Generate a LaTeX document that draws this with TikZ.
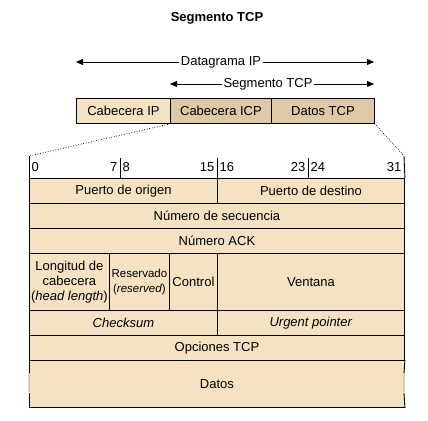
\documentclass[tikz,border=0pt]{standalone}
\usepackage{fontspec}
\setmainfont{Liberation Sans}
\usetikzlibrary{arrows.meta,calc}
\definecolor{tcplight}{RGB}{245,226,194}
\definecolor{tcpdark}{RGB}{221,201,166}
\tikzset{
  lw/.style={line width=0.9pt},
  plain/.style={font=\fontsize{13}{15}\selectfont, inner sep=1.5pt},
  cell/.style={draw=black, lw, fill=tcplight, anchor=north west, inner sep=0pt, font=\fontsize{13}{15}\selectfont, align=center},
  dcell/.style={cell, fill=tcpdark},
  arr/.style={lw, -{Triangle[length=7pt,width=6pt]}},
}
\newcommand{\dotsline}[3]{\foreach \t in {0,#3,...,1} {\fill ($(#1)!\t!(#2)$) circle (0.5pt);}}
\begin{document}
\begin{tikzpicture}[x=1pt,y=-1pt]
\useasboundingbox (0,0) rectangle (428,420);
% fills
\fill[tcplight] (76,98) rectangle (170,123);
\fill[tcpdark] (170,98) rectangle (374,123);
\fill[tcplight] (29,178) rectangle (404,407);
% top boxes
\node[cell, minimum width=94pt, minimum height=25pt] (cip) at (76,98) {Cabecera IP};
\node[dcell, minimum width=101pt, minimum height=25pt] (ctcp) at (170,98) {Cabecera ICP};
\node[dcell, minimum width=103pt, minimum height=25pt] (dtcp) at (271,98) {Datos TCP};
% fields
\node[cell, minimum width=188pt, minimum height=25pt] (po) at (29,178) {Puerto de origen};
\node[cell, minimum width=187pt, minimum height=25pt] (pd) at (217,178) {Puerto de destino};
\node[cell, minimum width=375pt, minimum height=25pt] (ns) at (29,203) {Número de secuencia};
\node[cell, minimum width=375pt, minimum height=25pt] (na) at (29,228) {Número ACK};
\node[cell, minimum width=80pt, minimum height=57pt] (lc) at (29,253) {Longitud de\\cabecera\\(\textit{head length})};
\node[cell, minimum width=60pt, minimum height=57pt, font=\fontsize{11.5}{15}\selectfont] (rs) at (109,253) {Reservado\\(\textit{reserved})};
\node[cell, minimum width=48pt, minimum height=57pt] (ct) at (169,253) {Control};
\node[cell, minimum width=187pt, minimum height=57pt] (vt) at (217,253) {Ventana};
\node[cell, minimum width=188pt, minimum height=25pt] (cs) at (29,310) {\textit{Checksum}};
\node[cell, minimum width=187pt, minimum height=25pt] (up) at (217,310) {\textit{Urgent pointer}};
\node[cell, minimum width=375pt, minimum height=25pt] (op) at (29,335) {Opciones TCP};
\node[cell, draw=none, minimum width=375pt, minimum height=47pt] (dt) at (29,360) {Datos};
% title
\node[plain, font=\fontsize{13}{15}\selectfont\bfseries] (title) at (217,18) {Segmento TCP};
% arrows
\node[plain] (dg) at (221,62) {Datagrama IP};
\coordinate (dgL) at (76,62);
\coordinate (dgR) at (374,62);
\draw[arr] (dg.west) -- (dgL);
\draw[arr] (dg.east) -- (dgR);
\node[plain] (sg) at (268,84) {Segmento TCP};
\coordinate (sgL) at (170,84);
\coordinate (sgR) at (374,84);
\draw[arr] (sg.west) -- (sgL);
\draw[arr] (sg.east) -- (sgR);
% header row
\coordinate (hL) at (29,156);
\coordinate (hR) at (404,156);
\dotsline{ctcp.south west}{hL}{0.018}
\dotsline{dtcp.south east}{hR}{0.05}
\draw[lw] (hL) -- (po.north west);
\draw[lw] (hR) -- (pd.north east);
\coordinate (t1) at (120,158); \coordinate (t1b) at (120,178);
\coordinate (t2) at (217,158); \coordinate (t2b) at (217,178);
\coordinate (t3) at (308,158); \coordinate (t3b) at (308,178);
\draw[lw] (t1) -- (t1b);
\draw[lw] (t2) -- (t2b);
\draw[lw] (t3) -- (t3b);
\node[plain, anchor=west] (b0) at (30,167) {0};
\node[plain, anchor=east] (b7) at (119,167) {7};
\node[plain, anchor=west] (b8) at (121,167) {8};
\node[plain, anchor=east] (b15) at (216,167) {15};
\node[plain, anchor=west] (b16) at (218,167) {16};
\node[plain, anchor=east] (b23) at (307,167) {23};
\node[plain, anchor=west] (b24) at (309,167) {24};
\node[plain, anchor=east] (b31) at (403,167) {31};
% datos borders
\draw[lw] (dt.north west) -- (dt.north east);
\draw[lw] (dt.south west) -- (dt.south east);
\coordinate (dl1) at (29,373); \coordinate (dl2) at (29,393);
\coordinate (dr1) at (404,373); \coordinate (dr2) at (404,393);
\draw[lw] (dt.north west) -- (dl1);
\dotsline{dl1}{dl2}{0.1}
\draw[lw] (dl2) -- (dt.south west);
\draw[lw] (dt.north east) -- (dr1);
\dotsline{dr1}{dr2}{0.1}
\draw[lw] (dr2) -- (dt.south east);
\end{tikzpicture}
\end{document}
